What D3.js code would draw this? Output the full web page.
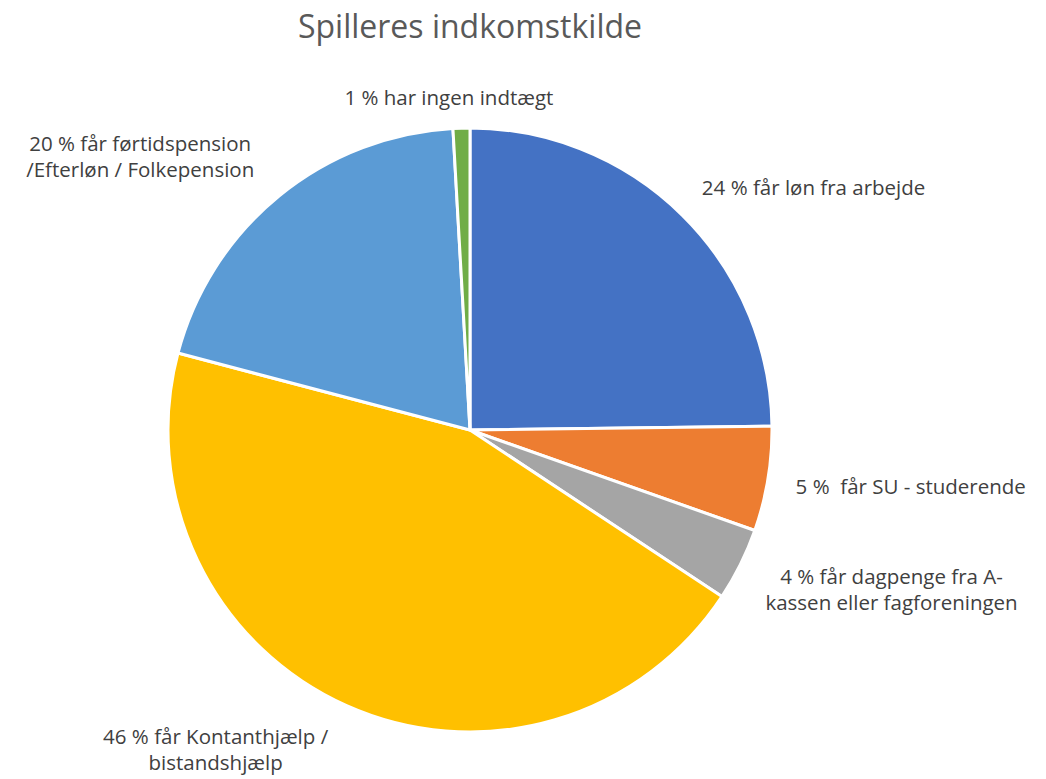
<!DOCTYPE html>
<html><head><meta charset="utf-8">
<script src="https://cdn.jsdelivr.net/npm/d3@7"></script>
<style>body{margin:0;background:#fff} text{white-space:pre}</style>
</head><body>
<svg id="c" width="1046" height="779"></svg>
<script>
const title = "Spilleres indkomstkilde";
const categories = ["løn fra arbejde","SU - studerende","dagpenge","Kontanthjælp","førtidspension","ingen indtægt"];
const values = [24.8, 5.6, 3.9, 44.8, 20.0, 0.9];
const labels = [
  ["24 % får løn fra arbejde"],
  ["5 %  får SU - studerende"],
  ["4 % får dagpenge fra A-","kassen eller fagforeningen"],
  ["46 % får Kontanthjælp /","bistandshjælp"],
  ["20 % får førtidspension","/Efterløn / Folkepension"],
  ["1 % har ingen indtægt"]
];
const colors = ["#4472C4","#ED7D31","#A5A5A5","#FFC000","#5B9BD5","#70AD47"];

const W = 1046, H = 779;
const svg = d3.select("#c");
const cx = 470, cy = 430, R = 302;
const font = "'Open Sans', 'Noto Sans', sans-serif";

svg.append("text").attr("x", 470).attr("y", 38).attr("text-anchor","middle")
  .attr("font-family", font).attr("font-size", 32).attr("fill","#595959").text(title);

const pie = d3.pie().sort(null).value(d => d)(values);
const arc = d3.arc().innerRadius(0).outerRadius(R);
const g = svg.append("g").attr("transform", `translate(${cx},${cy})`);
g.selectAll("path").data(pie).join("path")
  .attr("d", arc).attr("fill", (d,i) => colors[i])
  .attr("stroke", "#fff").attr("stroke-width", 3).attr("stroke-linejoin","round");

const fs = 20.5, lh = 26, gap = 28;
pie.forEach((d,i) => {
  const a = (d.startAngle + d.endAngle)/2;
  const s = Math.sin(a), c = Math.cos(a);
  const px = (R+gap)*s;
  const py = -(R+gap - 10*Math.pow(Math.max(0,c),8))*c + 2.5;
  const t = g.append("text").attr("font-family", font).attr("font-size", fs).attr("fill","#404040").attr("text-anchor","middle");
  const lines = labels[i];
  const spans = lines.map((l,k) => t.append("tspan").text(l));
  const w = d3.max(spans, sp => sp.node().getComputedTextLength());
  const h = lines.length * lh;
  let left;
  if (Math.abs(s) < 0.3) left = px - w/2 + (w/2)*s*4; else left = s > 0 ? px : px - w - 7;
  let top = py - h/2 - (h/2)*c;
  const maxBottom = H - cy - 2;
  if (top + h > maxBottom) top = maxBottom - h;
  spans.forEach((sp,k) => sp.attr("x", left + w/2).attr("y", top + lh*k + lh*0.72));
});
</script>
</body></html>
